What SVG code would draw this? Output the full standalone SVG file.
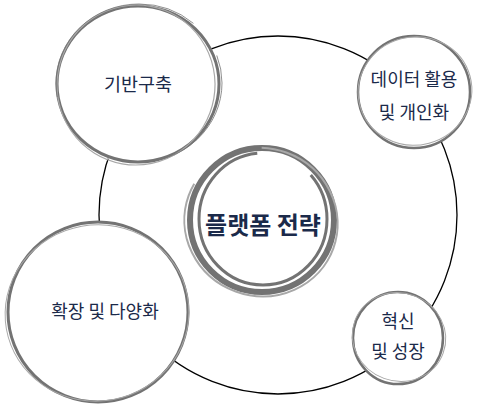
<svg xmlns="http://www.w3.org/2000/svg" width="480" height="410" viewBox="0 0 480 410">
<style>
.t{font-family:"Noto Sans CJK KR","Noto Sans",sans-serif;fill:#1b2a4a;text-anchor:middle}
.b{fill:none;stroke:#737373}
.w{fill:none;stroke:#a8a8a8}
</style>
<rect width="480" height="410" fill="#fff"/>
<g id="connectors">
<circle cx="278" cy="215" r="179" fill="none" stroke="#000" stroke-width="1.3"/>
</g>
<g id="n1">
<circle cx="137" cy="84" r="80" fill="#fff"/>
<ellipse class="b" cx="138" cy="84" rx="81" ry="78" stroke-width="3"/>
<ellipse class="w" cx="136" cy="85" rx="79" ry="80" stroke-width="1.2" transform="rotate(10 136 85)"/>
<ellipse class="b" cx="139" cy="83" rx="83" ry="79" stroke-width="0.8" stroke-dasharray="200 40"/>
<text class="t" x="138" y="91" font-size="18.5">기반구축</text>
</g>
<g id="n2">
<circle cx="414" cy="92" r="56" fill="#fff"/>
<ellipse class="b" cx="414" cy="92" rx="56" ry="56" stroke-width="2.5"/>
<ellipse class="w" cx="415" cy="91" rx="57" ry="54" stroke-width="1" transform="rotate(-15 415 91)"/>
<text class="t" x="414" y="86" font-size="18">데이터 활용</text>
<text class="t" x="414" y="119" font-size="18">및 개인화</text>
</g>
<g id="n3">
<circle cx="262" cy="220" r="70" fill="#fff"/>
<ellipse class="b" cx="262" cy="220" rx="72" ry="72" stroke-width="6"/>
<ellipse class="b" cx="263" cy="219" rx="64" ry="66" stroke-width="3" stroke-dasharray="300 60"/>
<ellipse class="w" cx="261" cy="222" rx="77" ry="74" stroke-width="2" stroke-dasharray="250 80" transform="rotate(20 261 222)"/>
<text class="t" x="263" y="234" font-size="24" font-weight="bold">플랫폼 전략</text>
</g>
<g id="n4">
<circle cx="98" cy="312" r="90" fill="#fff"/>
<ellipse class="b" cx="98" cy="312" rx="90" ry="90" stroke-width="3"/>
<ellipse class="w" cx="97" cy="313" rx="92" ry="88" stroke-width="1" transform="rotate(-10 97 313)"/>
<text class="t" x="105" y="318" font-size="18">확장 및 다양화</text>
</g>
<g id="n5">
<circle cx="398" cy="338" r="45" fill="#fff"/>
<ellipse class="b" cx="398" cy="338" rx="45" ry="46" stroke-width="2.5"/>
<ellipse class="w" cx="399" cy="337" rx="47" ry="44" stroke-width="1" transform="rotate(20 399 337)"/>
<text class="t" x="398" y="328" font-size="18">혁신</text>
<text class="t" x="398" y="358" font-size="18">및 성장</text>
</g>
</svg>
